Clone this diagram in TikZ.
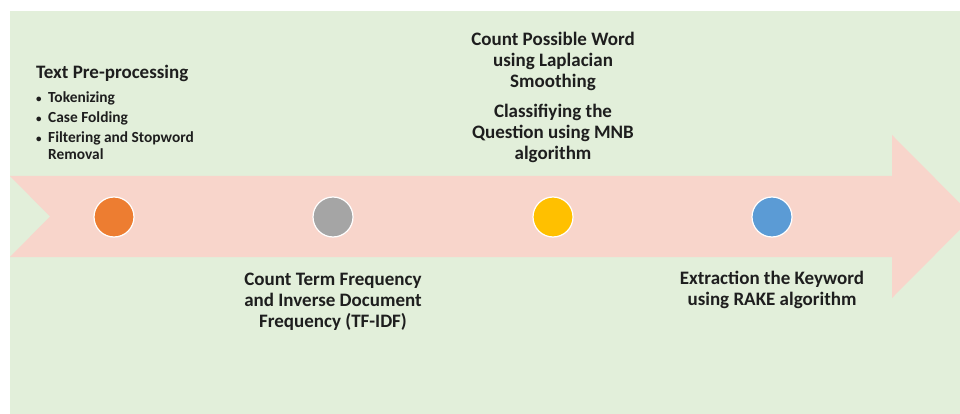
\documentclass[tikz,border=0pt]{standalone}
\usepackage{fontspec}
\setmainfont{Carlito}
\definecolor{bggreen}{HTML}{E2EFDA}
\definecolor{arrowpink}{HTML}{F8D5CB}
\definecolor{dotorange}{HTML}{ED7D31}
\definecolor{dotgray}{HTML}{A5A5A5}
\definecolor{dotyellow}{HTML}{FFC000}
\definecolor{dotblue}{HTML}{5B9BD5}
\definecolor{txt}{HTML}{1E1E1E}
\newcommand{\smallbul}{\makebox[12pt][l]{\raisebox{0.5pt}{\fontsize{11}{11}\selectfont\textbullet}}}
\begin{document}
\begin{tikzpicture}[x=1pt,y=-1pt,
  dot/.style={circle,draw=white,line width=1.2pt,minimum size=40pt,inner sep=0pt},
  lbl/.style={anchor=base,inner sep=0pt,text=txt,font=\bfseries\fontsize{19}{21}\selectfont},
  lblleft/.style={anchor=base west,inner sep=0pt,text=txt}]
\useasboundingbox (0,0) rectangle (960,414);
\fill[white] (0,0) rectangle (960,414);
\fill[bggreen] (10,11) rectangle (960,414);
\begin{scope}
\clip (0,0) rectangle (960,414);
\fill[arrowpink] (10,176) -- (892,176) -- (892,135) -- (973,216.5) -- (892,298) -- (892,257) -- (10,257) -- (50,216.5) -- cycle;
\end{scope}
\node[dot,fill=dotorange] (c1) at (114,217) {};
\node[dot,fill=dotgray] (c2) at (333,217) {};
\node[dot,fill=dotyellow] (c3) at (553,217) {};
\node[dot,fill=dotblue] (c4) at (772,217) {};
\node[lblleft,font=\bfseries\fontsize{19}{21}\selectfont] (h1) at (36,79) {Text Pre-processing};
\node[lblleft,font=\bfseries\fontsize{15.4}{17}\selectfont] (b1) at (36,103) {\begin{tabular}[t]{@{}l@{}l@{}}
\smallbul&Tokenizing\\[3pt]
\smallbul&Case Folding\\[3pt]
\smallbul&Filtering and Stopword\\
&Removal
\end{tabular}};
\node[lbl] (t3) at (553,46) {\begin{tabular}[t]{@{}c@{}}Count Possible Word\\ using Laplacian\\ Smoothing\\[9pt] Classifiying the\\ Question using MNB\\ algorithm\end{tabular}};
\node[lbl] (t2) at (333,285) {\begin{tabular}[t]{@{}c@{}}Count Term Frequency\\ and Inverse Document\\ Frequency (TF-IDF)\end{tabular}};
\node[lbl] (t4) at (772,284) {\begin{tabular}[t]{@{}c@{}}Extraction the Keyword\\ using RAKE algorithm\end{tabular}};
\end{tikzpicture}
\end{document}
